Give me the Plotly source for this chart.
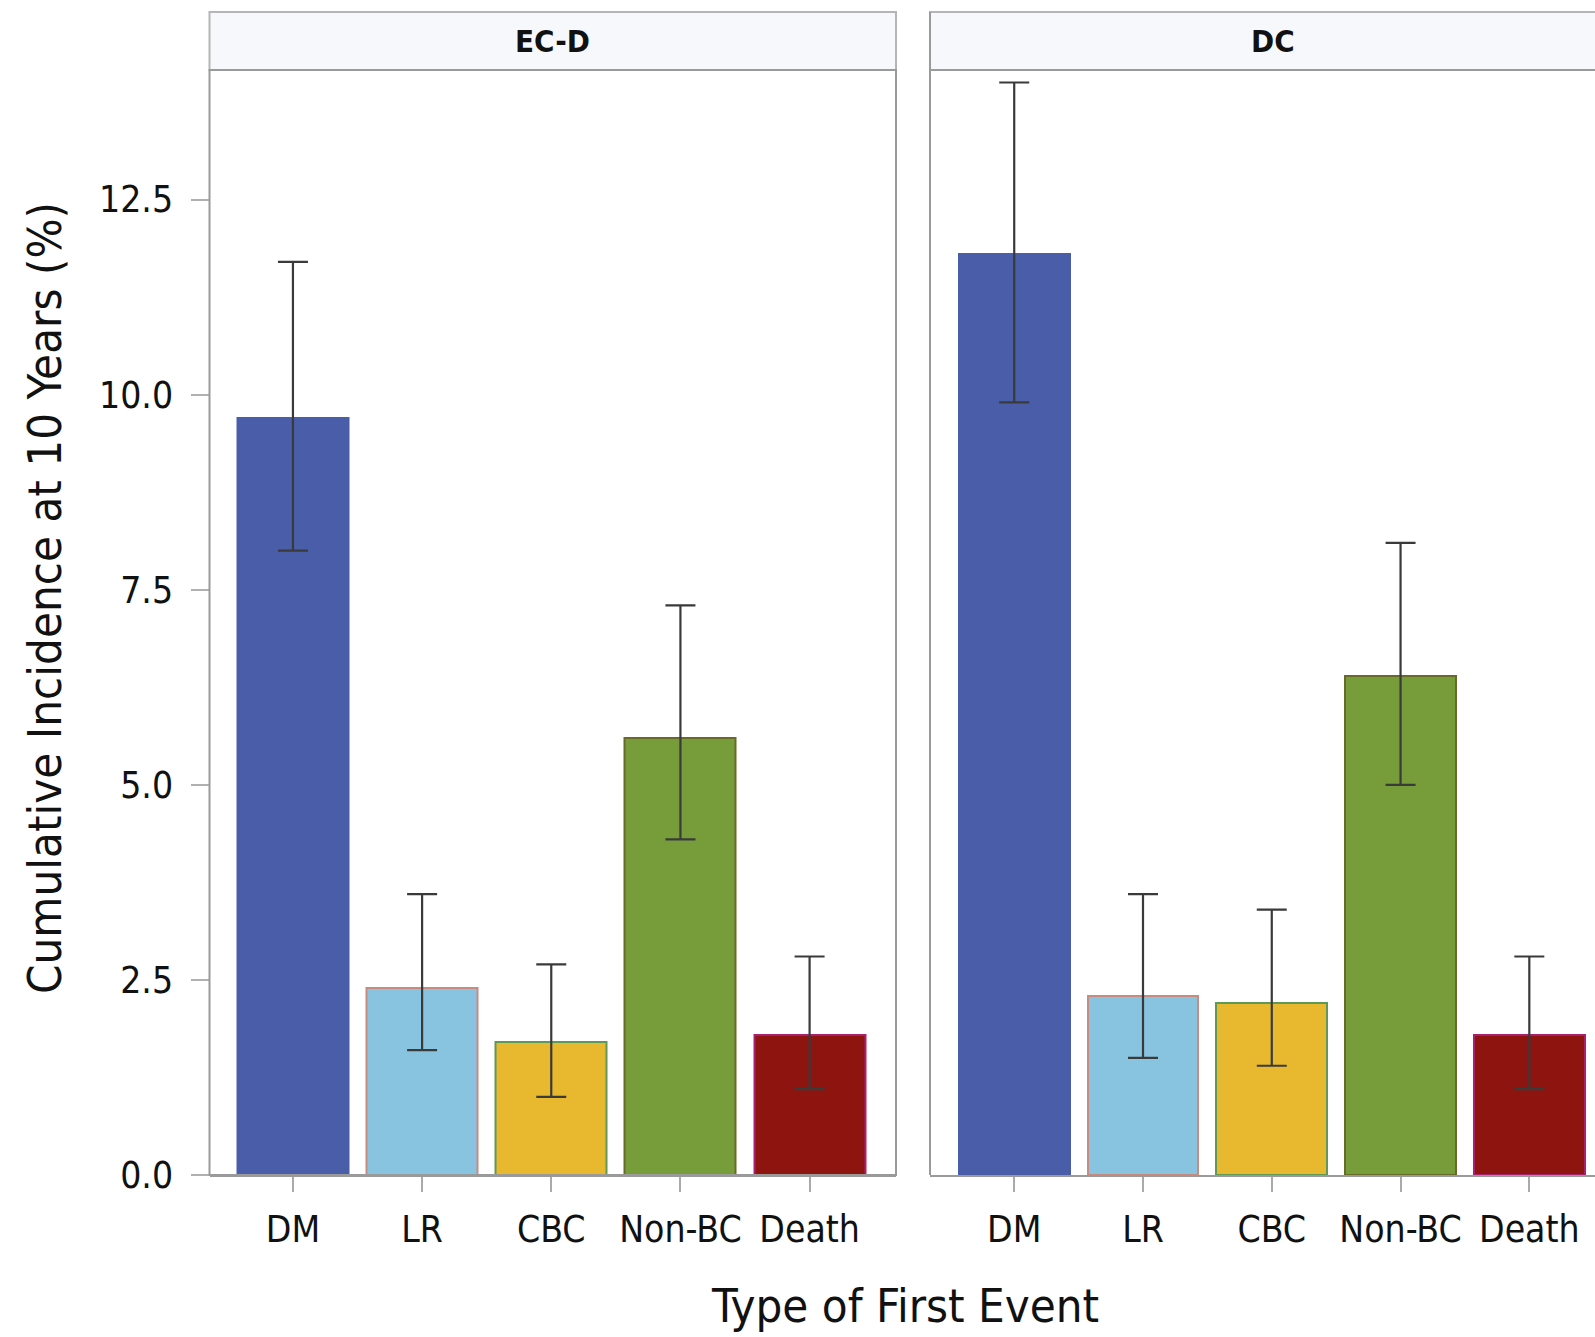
import plotly.graph_objects as go

categories = ["DM", "LR", "CBC", "Non-BC", "Death"]
panels = ["EC-D", "DC"]
ecd_values = [9.7, 2.4, 1.7, 5.6, 1.8]
ecd_lower = [8.0, 1.6, 1.0, 4.3, 1.1]
ecd_upper = [11.7, 3.6, 2.7, 7.3, 2.8]
dc_values = [11.8, 2.3, 2.2, 6.4, 1.8]
dc_lower = [9.9, 1.5, 1.4, 5.0, 1.1]
dc_upper = [14.0, 3.6, 3.4, 8.1, 2.8]
y_ticks = [0.0, 2.5, 5.0, 7.5, 10.0, 12.5]

fill_colors = ["#4A5DA8", "#88C4E0", "#E8B92F", "#779C3A", "#8E1410"]
edge_colors = ["#4A5DA8", "#C98A80", "#5E9A55", "#6A6A28", "#A8206E"]

FONT = "DejaVu Sans Condensed, Liberation Sans Narrow, Arial Narrow, sans-serif"
W, H = 1595, 1337

# pixel geometry
y0_px, ytop_px, strip_top_px = 1175, 70, 12
lx0, lx1 = 209.5, 896
rx0, rx1 = 930, 1595
yd = [(H - y0_px) / H, (H - ytop_px) / H]
strip_y1 = (H - strip_top_px) / H

fig = go.Figure()
for i, (vals, lo, hi) in enumerate([(ecd_values, ecd_lower, ecd_upper), (dc_values, dc_lower, dc_upper)]):
    fig.add_trace(go.Bar(
        x=categories, y=vals, width=0.86,
        marker=dict(color=fill_colors, line=dict(color=edge_colors, width=2)),
        error_y=dict(type="data", symmetric=False,
                     array=[h - v for h, v in zip(hi, vals)],
                     arrayminus=[v - l for v, l in zip(vals, lo)],
                     color="#3a3a3a", thickness=2.2, width=15),
        xaxis="x" if i == 0 else "x2", yaxis="y" if i == 0 else "y2",
        showlegend=False,
    ))

tickfont = dict(family=FONT, size=37, color="#111")
common_x = dict(type="category", categoryorder="array", categoryarray=categories,
                showline=True, linecolor="#9a9a9a", linewidth=2,
                ticks="outside", ticklen=15, tickcolor="#aaaaaa", tickwidth=2,
                ticklabelstandoff=6,
                tickfont=tickfont, showgrid=False, zeroline=False, automargin=False)
common_y = dict(range=[0, 14.16], showgrid=False, zeroline=False, automargin=False,
                tickvals=y_ticks, tickformat=".1f", domain=yd)

fig.update_layout(
    width=W, height=H, margin=dict(l=0, r=0, t=0, b=0),
    paper_bgcolor="white", plot_bgcolor="white",
    bargap=0,
    xaxis=dict(common_x, domain=[lx0 / W, lx1 / W], range=[-0.646, 4.669], anchor="y"),
    xaxis2=dict(common_x, domain=[rx0 / W, rx1 / W], range=[-0.654, 4.51], anchor="y2"),
    yaxis=dict(common_y, anchor="x", showticklabels=True, ticks="outside", ticklen=18,
               tickcolor="#b0b0b0", tickwidth=2, tickfont=tickfont, ticklabelstandoff=10,
               showline=False),
    yaxis2=dict(common_y, anchor="x2", showticklabels=False, ticks="", showline=False),
)

shapes = []
line = dict(color="#9a9a9a", width=2)
# left panel frame
shapes.append(dict(type="rect", xref="paper", yref="paper", x0=lx0 / W, x1=lx1 / W, y0=yd[0], y1=yd[1], line=line))
# left strip
shapes.append(dict(type="rect", xref="paper", yref="paper", x0=lx0 / W, x1=lx1 / W, y0=yd[1], y1=strip_y1,
                   line=dict(color="#b5b5b5", width=2), fillcolor="#F7F8FC", layer="below"))
# right panel frame (cropped at right edge)
shapes.append(dict(type="line", xref="paper", yref="paper", x0=rx0 / W, x1=rx0 / W, y0=yd[0], y1=strip_y1, line=line))
shapes.append(dict(type="line", xref="paper", yref="paper", x0=rx0 / W, x1=1, y0=yd[1], y1=yd[1], line=line))
shapes.append(dict(type="rect", xref="paper", yref="paper", x0=rx0 / W, x1=1.01, y0=yd[1], y1=strip_y1,
                   line=dict(color="#b5b5b5", width=2), fillcolor="#F7F8FC", layer="below"))
fig.update_layout(shapes=shapes)

annotations = []
for name, (a, b) in zip(panels, [(lx0, lx1), (rx0, rx0 + (lx1 - lx0))]):
    annotations.append(dict(text="<b>" + name + "</b>", xref="paper", yref="paper",
                            x=(a + b) / 2 / W, y=(yd[1] + strip_y1) / 2, showarrow=False,
                            font=dict(family=FONT, size=31, color="#111"), xanchor="center", yanchor="middle"))
annotations.append(dict(text="Cumulative Incidence at 10 Years (%)", xref="paper", yref="paper",
                        x=44 / W, y=1 - 598 / H, textangle=-90, showarrow=False,
                        font=dict(family=FONT, size=47, color="#111"), xanchor="center", yanchor="middle"))
annotations.append(dict(text="Type of First Event", xref="paper", yref="paper",
                        x=905 / W, y=1 - 1305 / H, showarrow=False,
                        font=dict(family=FONT, size=47, color="#111"), xanchor="center", yanchor="middle"))
fig.update_layout(annotations=annotations)

fig.write_html("out.html")
